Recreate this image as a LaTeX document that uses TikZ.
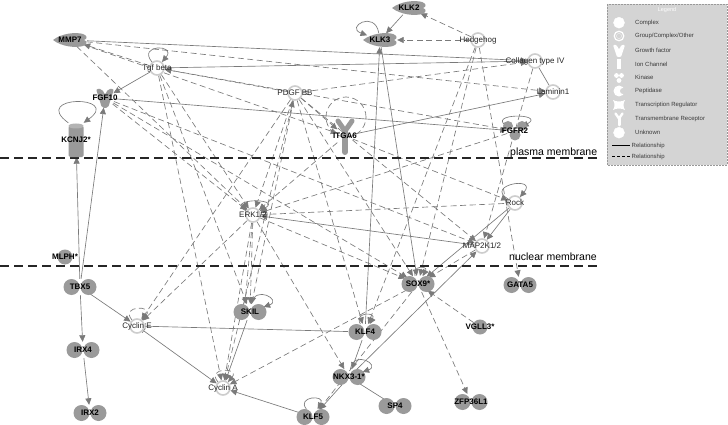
\documentclass[tikz,border=0pt]{standalone}
\usepackage{fontspec}
\setmainfont{Liberation Sans}
\usetikzlibrary{arrows.meta,shapes.geometric}
\pgfdeclarelayer{bg}
\pgfsetlayers{bg,main}
\definecolor{lc}{HTML}{7A7A7A}
\definecolor{gf}{HTML}{9A9A9A}
\definecolor{rc}{HTML}{CDCDCD}
\definecolor{legbg}{HTML}{D4D4D4}
\definecolor{legtx}{HTML}{3A3A3A}
\tikzset{
  tipx/.style={-{Triangle[length=6.5pt,width=6pt]}},
  sol/.style={draw=lc, line width=0.65pt, tipx},
  sline/.style={draw=lc, line width=0.65pt},
  das/.style={draw=lc, line width=0.65pt, dash pattern=on 6pt off 3.5pt, tipx},
  dline/.style={draw=lc, line width=0.65pt, dash pattern=on 6pt off 3.5pt},
  trn/.style={ellipse, minimum width=34pt, minimum height=16pt, inner sep=0pt},
  cn/.style={circle, minimum size=16pt, inner sep=0pt},
  grp/.style={circle, minimum size=14pt, inner sep=0pt, draw=rc, line width=1.6pt, fill=white},
  bt/.style={font=\fontsize{8}{9}\selectfont\bfseries, text=black, inner sep=0pt},
  nt/.style={font=\fontsize{8}{9}\selectfont, text=black!85, inner sep=0pt},
  memb/.style={draw=black!85, line width=1.6pt, dash pattern=on 9pt off 5pt},
  mtext/.style={font=\fontsize{10.5}{11}\selectfont, text=black, inner sep=0pt, anchor=base west},
  lgt/.style={font=\fontsize{6}{7}\selectfont, text=legtx, anchor=west, inner sep=0pt},
  lic/.style={fill=white, draw=white},
}
\newcommand\TRn[4]{%
  \fill[gf] (#2-8.5,#3) circle (8pt) (#2+8.5,#3) circle (8pt);
  \node[trn, label={[bt]center:#4}] (#1) at (#2,#3) {};
}
\newcommand\PEPn[4]{%
  \begin{scope}[shift={(#2,#3)}]
  \fill[gf] (-17,0) .. controls (-8,-7) and (6,-8) .. (13,-6) .. controls (17,-5) and (18,-1) .. (14,0) .. controls (18,1) and (17,5) .. (13,6) .. controls (6,8) and (-8,7) .. (-17,0) -- cycle;
  \end{scope}
  \node[ellipse, minimum width=34pt, minimum height=14pt, inner sep=0pt, label={[bt]center:#4}] (#1) at (#2,#3) {};
}
\newcommand\GRPn[4]{%
  \node[grp, label={[nt]center:#4}] (#1) at (#2,#3) {};
}
\newcommand\UNKn[4]{%
  \node[circle, minimum size=15pt, inner sep=0pt, fill=gf, label={[bt]center:#4}] (#1) at (#2,#3) {};
}
\begin{document}
\begin{tikzpicture}[x=1pt,y=-1pt]
\useasboundingbox (0,0) rectangle (728,425);

% membranes
\draw[memb] (0,158) -- (598,158);
\node[mtext] (pm) at (510,155) {plasma membrane};
\draw[memb] (0,266) -- (598,266);
\node[mtext] (nm) at (509,260) {nuclear membrane};

% special shapes
\fill[gf, rounded corners=2pt] (96,89) -- (102,89) -- (105,95) -- (108,89) -- (114,89) -- (108,108) -- (102,108) -- cycle;
\node[circle, minimum size=19pt, inner sep=0pt, label={[bt]center:FGF10}] (fgf10) at (105,98) {};

\draw[gf, line width=5pt, line cap=round] (338,121) -- (345,131) -- (352,121);
\draw[gf, line width=6pt, line cap=round] (345,130) -- (345,152);
\node[rectangle, minimum width=15pt, minimum height=34pt, inner sep=0pt, label={[bt]center:ITGA6}] (itga6) at (345,136) {};

\fill[gf] (508,126) circle (5pt) (522,126) circle (5pt) (515,135) circle (5.5pt);
\node[cn, label={[bt]center:FGFR2}] (fgfr2) at (515,131) {};

\fill[gf, rounded corners=1.5pt] (68.5,126) rectangle (83.5,157);
\fill[gf!75] (76,126) ellipse [x radius=7.5pt, y radius=2.5pt];
\node[rectangle, minimum width=15pt, minimum height=34pt, inner sep=0pt, label={[bt]center:KCNJ2*}] (kcnj2) at (76,140) {};

\PEPn{klk2}{409}{8}{KLK2}
\PEPn{klk3}{380}{40}{KLK3}
\PEPn{mmp7}{70}{40}{MMP7}

\GRPn{hh}{478}{40}{Hedgehog}
\GRPn{tgfb}{157}{68}{Tgf beta}
\GRPn{col4}{535}{61}{Collagen type IV}
\GRPn{pdgf}{295}{93}{PDGF BB}
\GRPn{lam1}{553}{92}{Laminin1}
\GRPn{erk}{253}{215}{ERK1/2}
\GRPn{rock}{515}{203}{Rock}
\GRPn{map2k}{482}{246}{MAP2K1/2}
\GRPn{cyce}{137}{326}{Cyclin E}
\GRPn{cyca}{223}{388}{Cyclin A}

\UNKn{mlph}{65}{257}{MLPH*}
\UNKn{vgll3}{480}{327}{VGLL3*}

\TRn{tbx5}{80}{287}{TBX5}
\TRn{sox9}{418}{284}{SOX9*}
\TRn{gata5}{520}{285}{GATA5}
\TRn{skil}{250}{312}{SKIL}
\TRn{irx4}{83}{350}{IRX4}
\TRn{klf4}{365}{332}{KLF4}
\TRn{nkx}{349}{377}{NKX3-1*}
\TRn{sp4}{395}{406}{SP4}
\TRn{klf5}{313}{417}{KLF5}
\TRn{irx2}{90}{413}{IRX2}
\TRn{zfp}{471}{402}{ZFP36L1}

\begin{pgfonlayer}{bg}
\fill[white] (0,0) rectangle (728,425);
% solid relationships
\draw[sol] (klk2) -- (klk3);
\draw[sol] (klk3) to[out=100,in=160,looseness=5] (klk3);
\draw[sol] (mmp7) -- (col4);
\draw[sol] (tgfb) -- (col4);
\draw[sol] (tgfb) -- (fgf10);
\draw[sol] (tgfb) to[out=130,in=50,looseness=6] (tgfb);
\draw[sol] (fgf10) -- (fgfr2);
\draw[sol] (itga6) -- (lam1);
\draw[sline] (col4) -- (lam1);
\draw[sol] (kcnj2.north west) .. controls (30,95) and (122,95) .. (kcnj2.north east);
\draw[sol] (tbx5) -- (kcnj2);
\draw[sol] (tbx5) -- (fgf10);
\draw[sol] (map2k) -- (erk);
\draw[sol] (klf4) -- (klk3);
\draw[sol] (klk3) -- (sox9);
\draw[sline, -{Bar[width=6pt]}] (klf4) -- (cyce);
\draw[sol] (tbx5) -- (cyce);
\draw[sol] (tbx5) -- (irx4);
\draw[sol] (irx4) -- (irx2);
\draw[draw=lc, line width=0.65pt, {Bar[width=5pt]}-{Triangle[length=6.5pt,width=6pt]}] (cyce) -- (cyca);
\draw[sol] (skil) -- (cyca);
\draw[sol] (skil) to[out=80,in=20,looseness=4] (skil);
\draw[sol] (klf5) to[out=130,in=60,looseness=4] (klf5);
\draw[sol] (klf5) -- (cyca);
\draw[sol] (nkx) -- (klf5);
\draw[sline] (nkx) -- (sp4);
\draw[sol] (klf4) -- (nkx);
\draw[sol] (nkx) to[out=80,in=20,looseness=4] (nkx);
\draw[sol] (nkx) -- (map2k);
\draw[sol] (rock) -- (sox9);
\draw[sol] (rock) -- (map2k);
\draw[sol] (rock) to[out=150,in=50,looseness=6] (rock);
\draw[sol] (fgfr2) to[out=150,in=30,looseness=5] (fgfr2);
\draw[sol] (erk) to[out=150,in=30,looseness=5] (erk);
\draw[sol] (sox9) to[out=110,in=60,looseness=4] (sox9);
\draw[sol] (klf4) to[out=120,in=60,looseness=4] (klf4);
% dashed relationships
\draw[das] (hh) -- (klk2);
\draw[das] (hh) -- (klk3);
\draw[das] (hh) -- (gata5);
\draw[das] (hh) -- (sox9);
\draw[das] (hh) -- (klf4);
\draw[das] (tgfb) -- (mmp7);
\draw[das] (mmp7) -- (lam1);
\draw[das] (mmp7) -- (itga6);
\draw[das] (mmp7) -- (erk);
\draw[das] (pdgf) -- (tgfb);
\draw[das] (fgfr2) -- (tgfb);
\draw[das] (fgf10) -- (erk);
\draw[das] (fgf10) -- (map2k);
\draw[das] (fgf10) -- (sox9);
\draw[das] (tgfb) -- (erk);
\draw[das] (tgfb) -- (skil);
\draw[das] (tgfb) -- (cyca);
\draw[das] (pdgf) -- (erk);
\draw[das] (pdgf) -- (skil);
\draw[das] (pdgf) -- (itga6);
\draw[das] (pdgf) -- (sox9);
\draw[das] (pdgf) -- (map2k);
\draw[das] (pdgf) -- (col4);
\draw[das] (pdgf) -- (klf4);
\draw[das] (pdgf) -- (cyce);
\draw[das] (cyca) -- (pdgf);
\draw[das] (itga6) -- (erk);
\draw[das] (itga6) -- (rock);
\draw[das] (fgfr2) -- (erk);
\draw[das] (col4) -- (map2k);
\draw[dline, -{Bar[width=6pt]}] (erk) -- (rock);
\draw[das] (erk) -- (cyce);
\draw[das] (erk) -- (skil);
\draw[das] (erk) -- ([xshift=-5pt]skil.north);
\draw[das] (erk) -- (cyca);
\draw[das] (erk) -- (sox9);
\draw[das] (erk) -- (nkx);
\draw[das] (sox9) -- (cyca);
\draw[das] (sox9) -- (klf5);
\draw[das] (map2k) -- (sox9);
\draw[das] (vgll3) -- (sox9);
\draw[das] (sox9) -- (zfp);
\draw[das] (cyce) to[out=130,in=50,looseness=5] (cyce);
\draw[das] (cyca) to[out=130,in=50,looseness=5] (cyca);
\draw[dline] (346,117) circle (20pt);
\end{pgfonlayer}

% legend
\draw[fill=legbg, draw=black!40, dash pattern=on 2pt off 1pt, line width=0.6pt] (607,4) rectangle (727,165);
\node[font=\fontsize{5.5}{6}\selectfont, text=white, inner sep=0pt] (lgtitle) at (667,10) {Legend};
\fill[lic] (619,22.7) circle (5.5pt);
\draw[white, line width=1.2pt] (619,36) circle (4.8pt);
\draw[white!85!gray, line width=0.5pt] (619,36) circle (2.6pt);
\fill[white, rounded corners=1pt] (613,45) -- (616.5,45) -- (619,49.5) -- (621.5,45) -- (625,45) -- (621,57) -- (617,57) -- cycle;
\fill[white] (617,59) rectangle (621,69);
\fill[white] (616.5,75.5) circle (2.4pt) (621.5,75.5) circle (2.4pt) (619,80.5) circle (2.4pt);
\fill[white] (619,91) circle (5.5pt);
\fill[legbg] (623,91) circle (3pt);
\fill[white] (613,100) .. controls (616,102) and (622,102) .. (625,100) .. controls (623,103) and (623,107) .. (625,110) .. controls (622,108) and (616,108) .. (613,110) .. controls (615,107) and (615,103) .. (613,100) -- cycle;
\draw[white, line width=2.4pt, line cap=round] (615.5,113.5) -- (619,118.5) -- (622.5,113.5);
\draw[white, line width=3pt, line cap=round] (619,118) -- (619,125);
\fill[lic] (619,132.7) circle (5.5pt);
\draw[black, line width=0.9pt] (612,145.7) -- (630,145.7);
\draw[black, line width=0.9pt, dash pattern=on 3pt off 2pt] (612,156.7) -- (630,156.7);
\node[lgt] (lg1) at (635,22.7) {Complex};
\node[lgt] (lg2) at (635,36) {Group/Complex/Other};
\node[lgt] (lg3) at (635,50.7) {Growth factor};
\node[lgt] (lg4) at (635,64) {Ion Channel};
\node[lgt] (lg5) at (635,77.7) {Kinase};
\node[lgt] (lg6) at (635,91) {Peptidase};
\node[lgt] (lg7) at (635,105.3) {Transcription Regulator};
\node[lgt] (lg8) at (635,119) {Transmembrane Receptor};
\node[lgt] (lg9) at (635,132.7) {Unknown};
\node[lgt] (lg10) at (631.5,145.7) {Relationship};
\node[lgt] (lg11) at (631.5,156.7) {Relationship};
\end{tikzpicture}
\end{document}
